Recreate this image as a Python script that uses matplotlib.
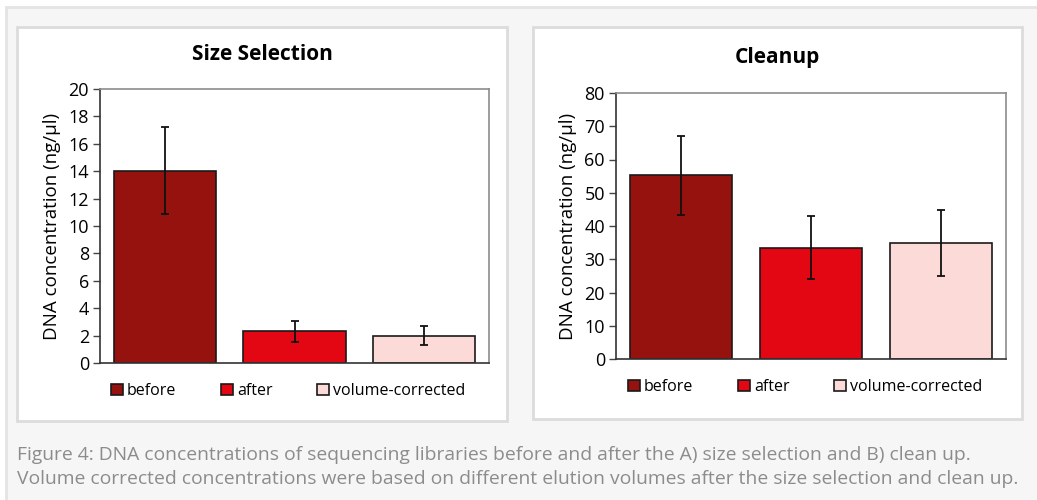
"""Figure 4: DNA-Konzentrationen vor/nach Size Selection und Cleanup."""
import matplotlib.pyplot as plt
from matplotlib.patches import Rectangle, Patch

groups = ["before", "after", "volume-corrected"]
colors = ["#96120e", "#e30613", "#fbdad8"]

size_sel = [14.05, 2.3, 2.0]
size_sel_err = [3.2, 0.78, 0.68]

cleanup = [55.2, 33.5, 34.9]
cleanup_err = [11.9, 9.4, 9.8]

caption = ("Figure 4: DNA concentrations of sequencing libraries before and after the A) size selection and B) clean up.\n"
           "Volume corrected concentrations were based on different elution volumes after the size selection and clean up.")

plt.rcParams["font.family"] = ["Open Sans", "DejaVu Sans"]

W, H = 1037, 500
fig = plt.figure(figsize=(W / 100, H / 100), dpi=100, facecolor="white")


def px(x0, y0, x1, y1):
    # Pixelbox (oben links) -> Figure-Koordinaten
    return [x0 / W, 1 - y1 / H, (x1 - x0) / W, (y1 - y0) / H]


def box(x0, y0, x1, y1, fc, ec, lw):
    l, b, w, h = px(x0, y0, x1, y1)
    fig.patches.append(Rectangle((l, b), w, h, transform=fig.transFigure, zorder=-5,
                                 facecolor=fc, edgecolor=ec, linewidth=lw))


# äußerer grauer Rahmen + Panel-Hintergründe
box(6, 7, W + 40, H + 40, "#f6f6f6", "#e4e4e4", 2)
box(17, 27, 507, 421, "white", "#dcdcdc", 2)
box(533, 27, 1022, 419, "white", "#dcdcdc", 2)


def panel(rect, frame, values, errs, ymax, step, title, title_y, leg_y, leg_x):
    ax = fig.add_axes(px(*rect))
    ax.set_zorder(2)
    ax.patch.set_alpha(0)
    x = range(len(values))
    ax.bar(x, values, width=0.79, color=colors, edgecolor="#1a1a1a", linewidth=1.2,
           yerr=errs, error_kw=dict(ecolor="#111111", elinewidth=1.3, capsize=3, capthick=1.3))
    ax.set_xlim(-0.5, len(values) - 0.5)
    ax.set_ylim(0, ymax)
    ax.set_yticks(range(0, ymax + 1, step))
    ax.set_xticks([])
    ax.tick_params(axis="y", labelsize=13, length=5, width=1, color="#444444", direction="out", pad=3)
    for s in ["top", "right"]:
        ax.spines[s].set_color("#8c8c8c")
    for s in ["left", "bottom"]:
        ax.spines[s].set_color("#333333")
    for s in ax.spines.values():
        s.set_linewidth(1.2)
    ax.set_ylabel("DNA concentration (ng/µl)", fontsize=13.5, labelpad=5)
    fig.text((frame[0] + frame[1]) / 2 / W, 1 - title_y / H, title, ha="center", va="center",
             fontsize=15, fontweight="bold")
    handles = [Patch(facecolor=c, edgecolor="#1a1a1a", linewidth=1.2) for c in colors]
    fig.legend(handles, groups, loc="center left", bbox_to_anchor=(leg_x / W, 1 - leg_y / H),
               ncol=3, frameon=False, fontsize=11.5, handlelength=0.75, handleheight=0.75,
               handletextpad=0.25, columnspacing=2.8, borderaxespad=0, borderpad=0)
    return ax


panel((100, 89, 489, 363), (17, 507), size_sel, size_sel_err, 20, 2, "Size Selection", 54, 391, 111)
panel((616, 93, 1006, 359), (533, 1022), cleanup, cleanup_err, 80, 10, "Cleanup", 58, 387, 628)

fig.text(17 / W, 1 - 467 / H, caption, ha="left", va="center", fontsize=13.9,
         color="#8c8c8c", linespacing=1.4)

fig.savefig("out.png", dpi=100, facecolor=fig.get_facecolor())
